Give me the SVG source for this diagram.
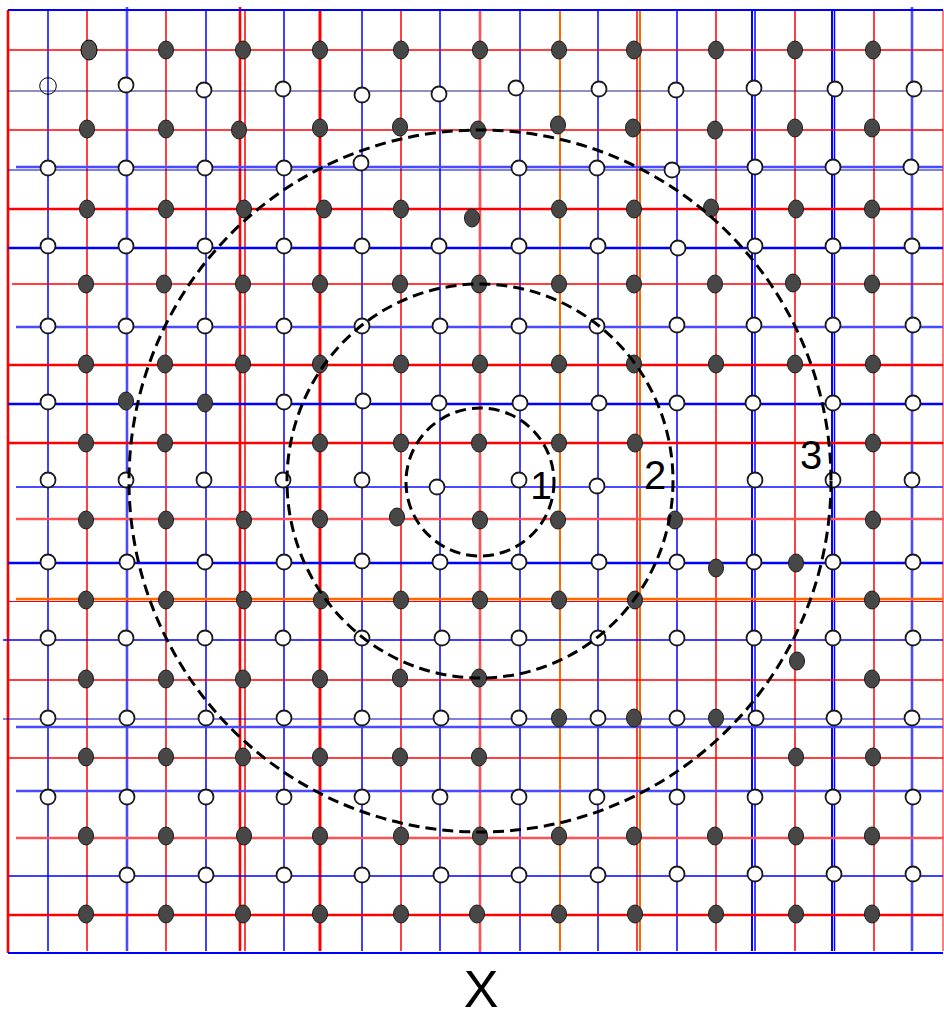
<svg xmlns="http://www.w3.org/2000/svg" xmlns:xlink="http://www.w3.org/1999/xlink" width="944" height="1019" viewBox="0 0 944 1019">
<style>
.r{stroke:#ff0000;stroke-width:1.5}
.rt{stroke:#ff0000;stroke-width:2.6}
.rp{stroke:#ff5252;stroke-width:2.6}
.b{stroke:#0000ff;stroke-width:1.5}
.bn{stroke:#0000cc;stroke-width:1}
.bt{stroke:#0000ff;stroke-width:2.6}
.bl{stroke:#4a4aff;stroke-width:2.6}
.o{stroke:#ff6a00;stroke-width:2.5}
.f{fill:#474747;stroke:#1a1a1a;stroke-width:1}
.w{fill:#ffffff;stroke:#1a1a1a;stroke-width:1.8}
.d{fill:none;stroke:#000;stroke-width:3;stroke-dasharray:11 6}
.t{font-family:"Liberation Sans",Arial,sans-serif;fill:#000;text-anchor:middle}
</style>
<defs>
<ellipse id="fd" class="f" cx="0" cy="0" rx="7.5" ry="9"/>
<circle id="od" class="w" cx="0" cy="0" r="7.5"/>
</defs>
<rect width="944" height="1019" fill="#fff"/>
<g id="connectors">
<g id="vertical">
<line x1="8" y1="10" x2="8" y2="953" class="rt"/>
<line x1="48" y1="10" x2="48" y2="951" class="b"/>
<line x1="87" y1="10" x2="87" y2="951" class="r"/>
<line x1="127" y1="7" x2="127" y2="951" class="bl"/>
<line x1="166" y1="10" x2="166" y2="951" class="r"/>
<line x1="206" y1="10" x2="206" y2="951" class="b"/>
<line x1="240" y1="7" x2="240" y2="951" class="rt"/>
<line x1="245" y1="10" x2="245" y2="951" class="r"/>
<line x1="284" y1="10" x2="284" y2="951" class="b"/>
<line x1="320" y1="10" x2="320" y2="951" class="rt" style="stroke-width:3"/>
<line x1="362" y1="10" x2="362" y2="951" class="b"/>
<line x1="401" y1="10" x2="401" y2="951" class="r"/>
<line x1="440" y1="10" x2="440" y2="951" class="b"/>
<line x1="480" y1="10" x2="480" y2="953" class="rp"/>
<line x1="520" y1="10" x2="520" y2="951" class="b"/>
<line x1="560" y1="10" x2="560" y2="951" class="o" style="stroke-width:2"/>
<line x1="598" y1="10" x2="598" y2="951" class="b"/>
<line x1="637" y1="10" x2="637" y2="951" class="r"/>
<line x1="640" y1="10" x2="640" y2="951" class="o" style="stroke-width:2"/>
<line x1="677" y1="10" x2="677" y2="951" class="b"/>
<line x1="716" y1="10" x2="716" y2="951" class="r"/>
<line x1="752" y1="10" x2="752" y2="951" class="b" style="stroke-width:2"/>
<line x1="755" y1="10" x2="755" y2="951" class="b"/>
<line x1="795" y1="10" x2="795" y2="951" class="r"/>
<line x1="832" y1="10" x2="832" y2="951" class="b" style="stroke-width:2"/>
<line x1="834.5" y1="10" x2="834.5" y2="951" class="b"/>
<line x1="874" y1="10" x2="874" y2="951" class="r"/>
<line x1="912" y1="7" x2="912" y2="951" class="bl"/>
<line x1="943" y1="10" x2="943" y2="951" class="rp" style="stroke-width:1.5"/>
</g>
<g id="horizontal">
<line x1="8" y1="10" x2="943" y2="10" class="b" style="stroke-width:2"/>
<line x1="8" y1="50" x2="943" y2="50" class="r"/>
<line x1="8" y1="91" x2="943" y2="91" class="bn" style="stroke:#202080"/>
<line x1="8" y1="130" x2="943" y2="130" class="r"/>
<line x1="16" y1="167" x2="943" y2="167" class="bl"/>
<line x1="8" y1="170" x2="943" y2="170" class="bn"/>
<line x1="8" y1="209" x2="943" y2="209" class="rt"/>
<line x1="8" y1="248" x2="943" y2="248" class="bt"/>
<line x1="12" y1="284" x2="943" y2="284" class="r"/>
<line x1="16" y1="327" x2="943" y2="327" class="bl"/>
<line x1="8" y1="365" x2="943" y2="365" class="rt"/>
<line x1="8" y1="404" x2="943" y2="404" class="bt"/>
<line x1="8" y1="443" x2="943" y2="443" class="rt"/>
<line x1="16" y1="487" x2="943" y2="487" class="bl" style="stroke-width:2"/>
<line x1="16" y1="519" x2="943" y2="519" class="rp"/>
<line x1="8" y1="563" x2="943" y2="563" class="bt"/>
<line x1="16" y1="599" x2="943" y2="599" class="o"/>
<line x1="8" y1="601.5" x2="943" y2="601.5" class="r" style="stroke-width:1"/>
<line x1="3" y1="640" x2="943" y2="640" class="b"/>
<line x1="8" y1="680" x2="943" y2="680" class="r"/>
<line x1="3" y1="719" x2="943" y2="719" class="bn" style="stroke-width:1.2"/>
<line x1="16" y1="727" x2="943" y2="727" class="bl"/>
<line x1="8" y1="758" x2="943" y2="758" class="r"/>
<line x1="16" y1="791" x2="943" y2="791" class="bl"/>
<line x1="16" y1="838" x2="943" y2="838" class="rp"/>
<line x1="9" y1="876" x2="943" y2="876" class="b"/>
<line x1="8" y1="915" x2="943" y2="915" class="rt"/>
<line x1="8" y1="953" x2="943" y2="953" class="b" style="stroke-width:2"/>
</g>
</g>
<g id="filled-dots">
<ellipse cx="89" cy="50" rx="8" ry="10" fill="#555" stroke="#000" stroke-width="1"/>
<use xlink:href="#fd" x="166" y="50"/><use xlink:href="#fd" x="243" y="50"/><use xlink:href="#fd" x="320" y="50"/><use xlink:href="#fd" x="401" y="50"/><use xlink:href="#fd" x="480" y="50"/><use xlink:href="#fd" x="559" y="50"/><use xlink:href="#fd" x="634" y="50"/><use xlink:href="#fd" x="716" y="50"/><use xlink:href="#fd" x="795" y="50"/><use xlink:href="#fd" x="873" y="50"/>
<use xlink:href="#fd" x="87" y="129"/><use xlink:href="#fd" x="166" y="129"/><use xlink:href="#fd" x="239" y="130"/><use xlink:href="#fd" x="320" y="128"/><use xlink:href="#fd" x="400" y="127"/><use xlink:href="#fd" x="478" y="130"/><use xlink:href="#fd" x="558" y="125"/><use xlink:href="#fd" x="633" y="128"/><use xlink:href="#fd" x="715" y="130"/><use xlink:href="#fd" x="795" y="128"/><use xlink:href="#fd" x="872" y="128"/>
<use xlink:href="#fd" x="87" y="209"/><use xlink:href="#fd" x="166" y="209"/><use xlink:href="#fd" x="244" y="209"/><use xlink:href="#fd" x="324" y="209"/><use xlink:href="#fd" x="401" y="209"/><use xlink:href="#fd" x="472" y="218"/><use xlink:href="#fd" x="559" y="209"/><use xlink:href="#fd" x="634" y="209"/><use xlink:href="#fd" x="711" y="208"/><use xlink:href="#fd" x="796" y="209"/><use xlink:href="#fd" x="872" y="209"/>
<use xlink:href="#fd" x="86" y="284"/><use xlink:href="#fd" x="164" y="284"/><use xlink:href="#fd" x="243" y="284"/><use xlink:href="#fd" x="320" y="284"/><use xlink:href="#fd" x="400" y="284"/><use xlink:href="#fd" x="479" y="284"/><use xlink:href="#fd" x="559" y="284"/><use xlink:href="#fd" x="634" y="284"/><use xlink:href="#fd" x="715" y="284"/><use xlink:href="#fd" x="793" y="283"/><use xlink:href="#fd" x="872" y="284"/>
<use xlink:href="#fd" x="86" y="364"/><use xlink:href="#fd" x="165" y="364"/><use xlink:href="#fd" x="243" y="364"/><use xlink:href="#fd" x="320" y="364"/><use xlink:href="#fd" x="401" y="364"/><use xlink:href="#fd" x="480" y="364"/><use xlink:href="#fd" x="559" y="364"/><use xlink:href="#fd" x="634" y="364"/><use xlink:href="#fd" x="716" y="364"/><use xlink:href="#fd" x="795" y="364"/><use xlink:href="#fd" x="873" y="364"/>
<use xlink:href="#fd" x="126" y="401"/><use xlink:href="#fd" x="205" y="403"/>
<use xlink:href="#fd" x="86" y="443"/><use xlink:href="#fd" x="165" y="443"/><use xlink:href="#fd" x="320" y="443"/><use xlink:href="#fd" x="401" y="443"/><use xlink:href="#fd" x="479" y="443"/><use xlink:href="#fd" x="559" y="443"/><use xlink:href="#fd" x="635" y="443"/><use xlink:href="#fd" x="873" y="443"/>
<use xlink:href="#fd" x="86" y="520"/><use xlink:href="#fd" x="166" y="520"/><use xlink:href="#fd" x="244" y="520"/><use xlink:href="#fd" x="320" y="519"/><use xlink:href="#fd" x="397" y="517"/><use xlink:href="#fd" x="480" y="520"/><use xlink:href="#fd" x="558" y="520"/><use xlink:href="#fd" x="675" y="520"/><use xlink:href="#fd" x="873" y="520"/>
<use xlink:href="#fd" x="716" y="568"/><use xlink:href="#fd" x="796" y="563"/>
<use xlink:href="#fd" x="86" y="600"/><use xlink:href="#fd" x="166" y="600"/><use xlink:href="#fd" x="244" y="600"/><use xlink:href="#fd" x="321" y="600"/><use xlink:href="#fd" x="401" y="600"/><use xlink:href="#fd" x="480" y="600"/><use xlink:href="#fd" x="559" y="600"/><use xlink:href="#fd" x="635" y="600"/><use xlink:href="#fd" x="872" y="600"/>
<use xlink:href="#fd" x="797" y="661"/>
<use xlink:href="#fd" x="86" y="679"/><use xlink:href="#fd" x="166" y="679"/><use xlink:href="#fd" x="243" y="679"/><use xlink:href="#fd" x="320" y="679"/><use xlink:href="#fd" x="400" y="678"/><use xlink:href="#fd" x="479" y="678"/><use xlink:href="#fd" x="872" y="679"/>
<use xlink:href="#fd" x="559" y="718"/><use xlink:href="#fd" x="634" y="718"/><use xlink:href="#fd" x="716" y="718"/>
<use xlink:href="#fd" x="86" y="757"/><use xlink:href="#fd" x="166" y="757"/><use xlink:href="#fd" x="243" y="757"/><use xlink:href="#fd" x="320" y="757"/><use xlink:href="#fd" x="400" y="757"/><use xlink:href="#fd" x="479" y="757"/><use xlink:href="#fd" x="796" y="757"/><use xlink:href="#fd" x="873" y="757"/>
<use xlink:href="#fd" x="86" y="836"/><use xlink:href="#fd" x="166" y="836"/><use xlink:href="#fd" x="244" y="836"/><use xlink:href="#fd" x="320" y="836"/><use xlink:href="#fd" x="401" y="836"/><use xlink:href="#fd" x="480" y="836"/><use xlink:href="#fd" x="559" y="836"/><use xlink:href="#fd" x="634" y="836"/><use xlink:href="#fd" x="715" y="836"/><use xlink:href="#fd" x="796" y="836"/><use xlink:href="#fd" x="872" y="836"/>
<use xlink:href="#fd" x="86" y="914"/><use xlink:href="#fd" x="166" y="914"/><use xlink:href="#fd" x="243" y="914"/><use xlink:href="#fd" x="320" y="914"/><use xlink:href="#fd" x="401" y="914"/><use xlink:href="#fd" x="477" y="914"/><use xlink:href="#fd" x="559" y="914"/><use xlink:href="#fd" x="635" y="914"/><use xlink:href="#fd" x="716" y="914"/><use xlink:href="#fd" x="796" y="914"/><use xlink:href="#fd" x="872" y="914"/>
</g>
<g id="open-dots">
<circle cx="48" cy="86" r="8.3" fill="none" stroke="#000" stroke-width="1"/>
<use xlink:href="#od" x="126" y="85"/><use xlink:href="#od" x="204" y="90"/><use xlink:href="#od" x="283" y="89"/><use xlink:href="#od" x="362" y="95"/><use xlink:href="#od" x="439" y="94"/><use xlink:href="#od" x="516" y="88"/><use xlink:href="#od" x="599" y="89"/><use xlink:href="#od" x="676" y="90"/><use xlink:href="#od" x="754" y="88"/><use xlink:href="#od" x="835" y="89"/><use xlink:href="#od" x="914" y="89"/>
<use xlink:href="#od" x="48" y="168"/><use xlink:href="#od" x="126" y="168"/><use xlink:href="#od" x="205" y="168"/><use xlink:href="#od" x="284" y="168"/><use xlink:href="#od" x="361" y="163"/><use xlink:href="#od" x="519" y="168"/><use xlink:href="#od" x="597" y="168"/><use xlink:href="#od" x="672" y="170"/><use xlink:href="#od" x="755" y="167"/><use xlink:href="#od" x="833" y="167"/><use xlink:href="#od" x="911" y="167"/>
<use xlink:href="#od" x="48" y="246"/><use xlink:href="#od" x="126" y="246"/><use xlink:href="#od" x="205" y="246"/><use xlink:href="#od" x="284" y="246"/><use xlink:href="#od" x="362" y="246"/><use xlink:href="#od" x="439" y="246"/><use xlink:href="#od" x="519" y="246"/><use xlink:href="#od" x="598" y="246"/><use xlink:href="#od" x="678" y="248"/><use xlink:href="#od" x="755" y="246"/><use xlink:href="#od" x="833" y="246"/><use xlink:href="#od" x="912" y="246"/>
<use xlink:href="#od" x="48" y="326"/><use xlink:href="#od" x="126" y="326"/><use xlink:href="#od" x="205" y="326"/><use xlink:href="#od" x="284" y="326"/><use xlink:href="#od" x="362" y="326"/><use xlink:href="#od" x="440" y="326"/><use xlink:href="#od" x="519" y="326"/><use xlink:href="#od" x="597" y="326"/><use xlink:href="#od" x="677" y="325"/><use xlink:href="#od" x="754" y="325"/><use xlink:href="#od" x="833" y="325"/><use xlink:href="#od" x="913" y="325"/>
<use xlink:href="#od" x="48" y="402"/><use xlink:href="#od" x="284" y="402"/><use xlink:href="#od" x="363" y="401"/><use xlink:href="#od" x="439" y="403"/><use xlink:href="#od" x="520" y="403"/><use xlink:href="#od" x="599" y="403"/><use xlink:href="#od" x="677" y="403"/><use xlink:href="#od" x="753" y="403"/><use xlink:href="#od" x="833" y="403"/><use xlink:href="#od" x="913" y="403"/>
<use xlink:href="#od" x="48" y="480"/><use xlink:href="#od" x="126" y="480"/><use xlink:href="#od" x="204" y="480"/><use xlink:href="#od" x="283" y="480"/><use xlink:href="#od" x="362" y="480"/><use xlink:href="#od" x="437" y="487"/><use xlink:href="#od" x="519" y="480"/><use xlink:href="#od" x="597" y="486"/><use xlink:href="#od" x="755" y="480"/><use xlink:href="#od" x="833" y="480"/><use xlink:href="#od" x="912" y="480"/>
<use xlink:href="#od" x="48" y="562"/><use xlink:href="#od" x="127" y="562"/><use xlink:href="#od" x="205" y="562"/><use xlink:href="#od" x="284" y="562"/><use xlink:href="#od" x="362" y="561"/><use xlink:href="#od" x="440" y="562"/><use xlink:href="#od" x="519" y="562"/><use xlink:href="#od" x="599" y="562"/><use xlink:href="#od" x="677" y="562"/><use xlink:href="#od" x="754" y="562"/><use xlink:href="#od" x="833" y="562"/><use xlink:href="#od" x="913" y="562"/>
<use xlink:href="#od" x="48" y="638"/><use xlink:href="#od" x="126" y="638"/><use xlink:href="#od" x="205" y="638"/><use xlink:href="#od" x="283" y="638"/><use xlink:href="#od" x="362" y="638"/><use xlink:href="#od" x="442" y="638"/><use xlink:href="#od" x="519" y="638"/><use xlink:href="#od" x="598" y="638"/><use xlink:href="#od" x="677" y="638"/><use xlink:href="#od" x="754" y="638"/><use xlink:href="#od" x="833" y="638"/><use xlink:href="#od" x="913" y="638"/>
<use xlink:href="#od" x="48" y="718"/><use xlink:href="#od" x="127" y="718"/><use xlink:href="#od" x="206" y="718"/><use xlink:href="#od" x="284" y="718"/><use xlink:href="#od" x="362" y="718"/><use xlink:href="#od" x="441" y="718"/><use xlink:href="#od" x="519" y="718"/><use xlink:href="#od" x="598" y="718"/><use xlink:href="#od" x="677" y="718"/><use xlink:href="#od" x="756" y="718"/><use xlink:href="#od" x="834" y="718"/><use xlink:href="#od" x="912" y="718"/>
<use xlink:href="#od" x="48" y="797"/><use xlink:href="#od" x="127" y="797"/><use xlink:href="#od" x="206" y="797"/><use xlink:href="#od" x="284" y="797"/><use xlink:href="#od" x="362" y="797"/><use xlink:href="#od" x="440" y="797"/><use xlink:href="#od" x="519" y="797"/><use xlink:href="#od" x="597" y="797"/><use xlink:href="#od" x="677" y="797"/><use xlink:href="#od" x="755" y="797"/><use xlink:href="#od" x="833" y="797"/><use xlink:href="#od" x="913" y="797"/>
<use xlink:href="#od" x="127" y="875"/><use xlink:href="#od" x="206" y="875"/><use xlink:href="#od" x="284" y="875"/><use xlink:href="#od" x="362" y="875"/><use xlink:href="#od" x="441" y="875"/><use xlink:href="#od" x="519" y="875"/><use xlink:href="#od" x="598" y="875"/><use xlink:href="#od" x="677" y="874"/><use xlink:href="#od" x="755" y="874"/><use xlink:href="#od" x="834" y="874"/><use xlink:href="#od" x="913" y="874"/>
</g>
<g id="rings">
<circle id="ring1" class="d" cx="480" cy="482" r="74"/>
<ellipse id="ring2" class="d" cx="480" cy="481" rx="193" ry="197"/>
<circle id="ring3" class="d" cx="480" cy="481" r="351"/>
</g>
<g id="labels">
<text class="t" x="541" y="499" font-size="39">1</text>
<text class="t" x="655" y="489" font-size="40">2</text>
<text class="t" x="811" y="469" font-size="40">3</text>
<text class="t" x="481" y="1007" font-size="52">X</text>
</g>
</svg>
